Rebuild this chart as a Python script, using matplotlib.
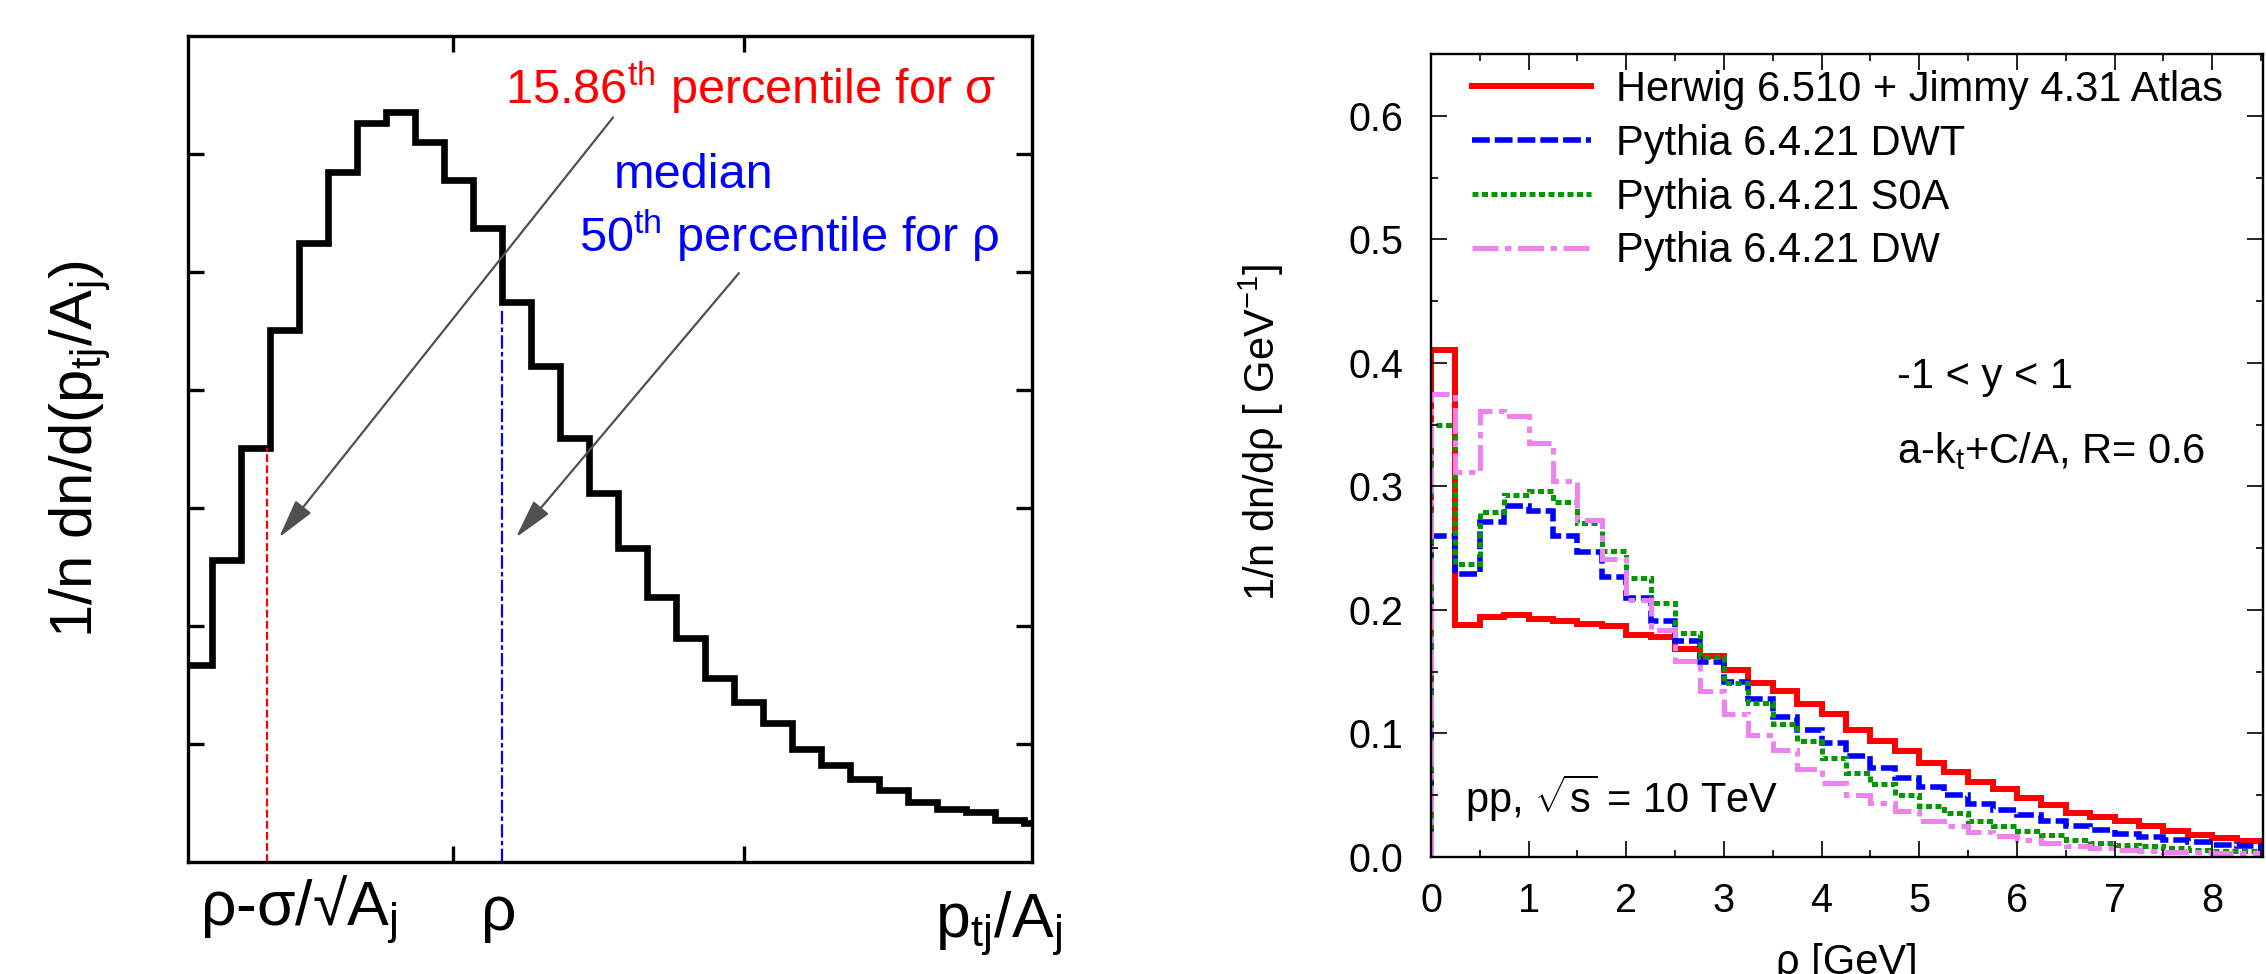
import numpy as np
import matplotlib
matplotlib.use("Agg")
import matplotlib.pyplot as plt
from matplotlib.lines import Line2D
from matplotlib.ticker import MultipleLocator, FormatStrFormatter

plt.rcParams['font.family'] = ['Liberation Sans', 'DejaVu Sans']
plt.rcParams['mathtext.fontset'] = 'custom'
plt.rcParams['mathtext.rm'] = 'Liberation Sans'
plt.rcParams['mathtext.it'] = 'Liberation Sans'
plt.rcParams['mathtext.default'] = 'regular'

# ---------------- data ----------------
# schematic p_tj/A_j distribution (arbitrary units, one bin per unit)
schem_edges = np.arange(-1, 30)
schem_counts = [1.67, 2.56, 3.51, 4.51, 5.25, 5.85, 6.26, 6.36, 6.10, 5.78,
                5.37, 4.75, 4.20, 3.59, 3.13, 2.66, 2.25, 1.90, 1.56, 1.36,
                1.18, 0.96, 0.82, 0.70, 0.61, 0.51, 0.45, 0.42, 0.36, 0.33]
sigma_cut = 1.91      # 15.86th percentile position
rho_cut = 10.0        # median position

# rho distributions, 0.25 GeV bins
rho_edges = np.linspace(0.0, 8.5, 35)
herwig = [0.410, 0.188, 0.194, 0.196, 0.193, 0.191, 0.189, 0.187, 0.180, 0.178,
          0.168, 0.163, 0.151, 0.141, 0.134, 0.124, 0.116, 0.103, 0.094, 0.086,
          0.076, 0.069, 0.061, 0.055, 0.048, 0.042, 0.036, 0.032, 0.029, 0.025,
          0.021, 0.018, 0.015, 0.013]
dwt = [0.260, 0.229, 0.271, 0.284, 0.280, 0.260, 0.247, 0.227, 0.210, 0.191,
       0.175, 0.158, 0.142, 0.128, 0.113, 0.103, 0.092, 0.082, 0.072, 0.064,
       0.057, 0.050, 0.043, 0.038, 0.034, 0.029, 0.025, 0.022, 0.019, 0.016,
       0.014, 0.012, 0.010, 0.009]
s0a = [0.350, 0.237, 0.279, 0.293, 0.296, 0.287, 0.270, 0.248, 0.226, 0.206,
       0.181, 0.162, 0.141, 0.125, 0.108, 0.094, 0.080, 0.068, 0.059, 0.050,
       0.041, 0.036, 0.029, 0.025, 0.021, 0.018, 0.014, 0.011, 0.010, 0.009,
       0.007, 0.006, 0.005, 0.005]
dw = [0.375, 0.312, 0.361, 0.357, 0.335, 0.304, 0.273, 0.241, 0.208, 0.184,
      0.159, 0.134, 0.116, 0.099, 0.087, 0.071, 0.060, 0.050, 0.044, 0.037,
      0.029, 0.025, 0.020, 0.017, 0.014, 0.011, 0.009, 0.007, 0.006, 0.005,
      0.004, 0.004, 0.003, 0.003]
series_labels = ["Herwig 6.510 + Jimmy 4.31 Atlas", "Pythia 6.4.21 DWT",
                 "Pythia 6.4.21 S0A", "Pythia 6.4.21 DW"]

# ---------------- figure ----------------
W, H = 2266, 974
fig = plt.figure(figsize=(W / 100, H / 100), dpi=100)
fig.patch.set_facecolor('white')


def px_rect(x0, y0, x1, y1):
    return [x0 / W, 1 - y1 / H, (x1 - x0) / W, (y1 - y0) / H]


# ---------- left panel ----------
ax1 = fig.add_axes(px_rect(188, 36, 1032, 862))
ax1.stairs(schem_counts, schem_edges, baseline=None, color='black',
           linewidth=4.8, joinstyle='miter')
ax1.set_xlim(-0.83, 28.28)
ax1.set_ylim(0, 7)

hist_at = lambda x: schem_counts[np.searchsorted(schem_edges, x) - 1]
ax1.plot([sigma_cut, sigma_cut], [0, hist_at(sigma_cut)], color='red',
         lw=1.6, dashes=(3.5, 1.5), zorder=1)
ax1.plot([rho_cut, rho_cut], [0, hist_at(rho_cut + 1e-6) - 0.06], color='blue',
         lw=1.6, dashes=(6, 1.5, 2, 1.5), zorder=1)

arrow_kw = dict(arrowstyle='-|>,head_length=1.1,head_width=0.28',
                color='#505050', lw=1.6, mutation_scale=22, shrinkA=0, shrinkB=0)
ax1.annotate('', xy=(2.31, 2.75), xytext=(13.83, 6.31), arrowprops=arrow_kw)
ax1.annotate('', xy=(10.48, 2.75), xytext=(18.17, 4.99), arrowprops=arrow_kw)

ax1.text(10.1, 6.42, r'15.86$^{th}$ percentile for σ', color='red',
         fontsize=35, ha='left', va='baseline')
ax1.text(13.86, 5.71, 'median', color='blue', fontsize=35,
         ha='left', va='baseline')
ax1.text(12.66, 5.17, r'50$^{th}$ percentile for ρ', color='blue',
         fontsize=35, ha='left', va='baseline')

ax1.set_xticks([8.31, 18.34])
ax1.set_yticks([1, 2, 3, 4, 5, 6])
ax1.tick_params(axis='both', which='major', direction='in', length=11.5,
                width=2.4, top=True, right=True,
                labelbottom=False, labelleft=False)
for sp in ax1.spines.values():
    sp.set_linewidth(2.4)

ax1.text(-0.41, -0.534, 'ρ-σ/√A$_j$', fontsize=45, ha='left',
         va='baseline', clip_on=False)
ax1.text(9.9, -0.576, 'ρ', fontsize=45, ha='center', va='baseline',
         clip_on=False)
ax1.text(24.93, -0.636, 'p$_{tj}$/A$_j$', fontsize=45, ha='left',
         va='baseline', clip_on=False)

ax1.set_ylabel('1/n dn/d(p$_{tj}$/A$_j$)', fontsize=43, va='baseline')
ax1.yaxis.set_label_coords((93 - 188) / 844, 0.5)

# ---------- right panel ----------
ax2 = fig.add_axes(px_rect(1431, 54, 2263, 857))
styles = [
    dict(color='red', lw=4.3, linestyle='-'),
    dict(color='blue', lw=4.0, linestyle=(0, (3.2, 0.9))),
    dict(color='#009a00', lw=3.6, linestyle=(0, (1.2, 0.7))),
    dict(color='violet', lw=3.6, linestyle=(0, (5.2, 1.3, 1.3, 1.3))),
]
for vals, st in zip([herwig, dwt, s0a, dw], styles):
    ax2.stairs(vals, rho_edges, baseline=0, color=st['color'],
               linewidth=st['lw'], linestyle=st['linestyle'])

ax2.set_xlim(0, 8.52)
ax2.set_ylim(0, 0.65)
ax2.xaxis.set_major_locator(MultipleLocator(1))
ax2.xaxis.set_minor_locator(MultipleLocator(0.5))
ax2.yaxis.set_major_locator(MultipleLocator(0.1))
ax2.yaxis.set_minor_locator(MultipleLocator(0.05))
ax2.yaxis.set_major_formatter(FormatStrFormatter('%.1f'))
ax2.tick_params(axis='both', which='both', direction='in', top=True,
                right=True, width=1.2, labelsize=28.5)
ax2.tick_params(axis='both', which='major', length=11.5)
ax2.tick_params(axis='both', which='minor', length=5)
ax2.tick_params(axis='x', which='major', pad=18)
ax2.tick_params(axis='y', which='major', pad=20)
for sp in ax2.spines.values():
    sp.set_linewidth(1.7)

ax2.set_xlabel('ρ [GeV]', fontsize=30, va='top')
ax2.xaxis.set_label_coords(0.5, -(943 - 857) / 803)
ax2.set_ylabel('1/n dn/dρ [ GeV$^{-1}$]', fontsize=30, va='baseline')
ax2.yaxis.set_label_coords((1275 - 1431) / 832, (857 - 432) / 803)

ax2.text(4.77, 0.380, '-1 < y < 1', fontsize=30, ha='left', va='baseline')
ax2.text(4.77, 0.319, 'a-k$_t$+C/A, R= 0.6', fontsize=30, ha='left',
         va='baseline')
ax2.text(0.35, 0.036, r'pp, $\sqrt{s}$ = 10 TeV', fontsize=30, ha='left',
         va='baseline')

handles = [Line2D([0], [0], color=st['color'], lw=st['lw'],
                  linestyle=st['linestyle']) for st in styles]
ax2.legend(handles, series_labels, loc='upper left',
           bbox_to_anchor=(1472 / W, 1 - 70 / H),
           bbox_transform=fig.transFigure, frameon=False, fontsize=30,
           borderpad=0, borderaxespad=0, handlelength=2.85,
           handletextpad=0.6, labelspacing=0.33)

fig.savefig('out.png', dpi=100, facecolor='white')
